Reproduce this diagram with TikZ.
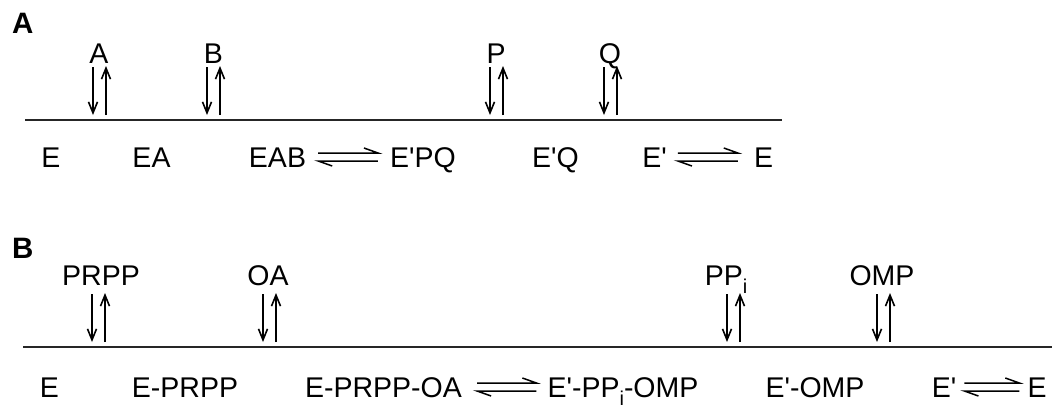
\documentclass[tikz,border=0pt]{standalone}
\usepackage{fontspec}
\setmainfont{Liberation Sans}
\usetikzlibrary{arrows.meta}

% a pair of binding/release arrows: #1 name, #2 x of the down arrow, #3 top y, #4 bottom y
\newcommand\bindpair[4]{%
  \coordinate (#1-dt) at (#2,#3);
  \coordinate (#1-db) at (#2,#4);
  \coordinate (#1-ut) at (#2+13,#3-1);
  \coordinate (#1-ub) at (#2+13,#4);
  \draw[flux] (#1-dt) -- (#1-db);
  \draw[flux] (#1-ub) -- (#1-ut);
}

% reversible step drawn as two harpoons between two species nodes
\newcommand\equil[4]{%
  \draw[harp] ([xshift=#3,yshift=4pt]#1.east) -- ([xshift=-#4,yshift=4pt]#2.west) -- ++(-14,-5);
  \draw[harp] ([xshift=-#4,yshift=-4pt]#2.west) -- ([xshift=#3,yshift=-4pt]#1.east) -- ++(14,5);
}

\newcommand\subi{\raisebox{-8pt}{\fontsize{20}{20}\selectfont i}}
\newcommand\pr{\textquotesingle}

\begin{document}
\begin{tikzpicture}[x=1pt,y=-1pt,
  species/.style={inner sep=0pt, font=\fontsize{28.5}{30}\selectfont, anchor=base,
                  text height=20pt, text depth=0pt},
  panel/.style={inner sep=0pt, font=\fontsize{29.5}{30}\selectfont\bfseries, anchor=base west},
  flux/.style={line width=1.6pt, -{Straight Barb[length=11pt,width=9pt,line width=1.6pt]}},
  harp/.style={line width=1.5pt},
  rulel/.style={line width=1.4pt, draw=black!85},
]
\useasboundingbox (0,0) rectangle (1060,413);

% ---------------- panel A: ordered Bi Bi ----------------
\node[panel] (pA) at (12,33) {A};

\coordinate (rA-l) at (25,120);
\coordinate (rA-r) at (782,120);
\draw[rulel] (rA-l) -- (rA-r);

\node[species] (sA) at (99,63) {A};
\node[species] (sB) at (213.5,63) {B};
\node[species] (sP) at (496,63) {P};
\node[species] (sQ) at (610,63) {Q};

\bindpair{kA}{93}{67}{115}
\bindpair{kB}{207}{67}{115}
\bindpair{kP}{490}{67}{115}
\bindpair{kQ}{604}{67}{115}

\node[species] (e1)  at (51,167)    {E};
\node[species] (e2)  at (151.5,167) {EA};
\node[species] (e3)  at (277.5,167) {EAB};
\node[species] (e4)  at (423,167)   {E\pr PQ};
\node[species] (e5)  at (555.5,167) {E\pr Q};
\node[species] (e6)  at (654.5,167) {E\pr};
\node[species] (e7)  at (763.5,167) {E};

\equil{e3}{e4}{12pt}{12pt}
\equil{e6}{e7}{11pt}{16pt}

% ---------------- panel B: OPRTase ----------------
\node[panel] (pB) at (12,258) {B};

\coordinate (rB-l) at (23,347);
\coordinate (rB-r) at (1052,347);
\draw[rulel] (rB-l) -- (rB-r);

\node[species] (sPRPP) at (101,285) {PRPP};
\node[species] (sOA)   at (268,285) {OA};
\node[species] (sPPi)  at (726,285) {PP\subi};
\node[species] (sOMP)  at (882,285) {OMP};

\bindpair{kPRPP}{92}{294}{342}
\bindpair{kOA}{263}{294}{342}
\bindpair{kPPi}{727}{294}{342}
\bindpair{kOMP}{877}{294}{342}

\node[species] (f1) at (49.5,397)  {E};
\node[species] (f2) at (185,397)   {E-PRPP};
\node[species] (f3) at (383.5,397) {E-PRPP-OA};
\node[species] (f4) at (623,397)   {E\pr-PP\subi-OMP};
\node[species] (f5) at (815,397)   {E\pr-OMP};
\node[species] (f6) at (944,397)   {E\pr};
\node[species] (f7) at (1037,397) {E};

\equil{f3}{f4}{15pt}{11pt}
\equil{f6}{f7}{8pt}{8pt}
\end{tikzpicture}
\end{document}
